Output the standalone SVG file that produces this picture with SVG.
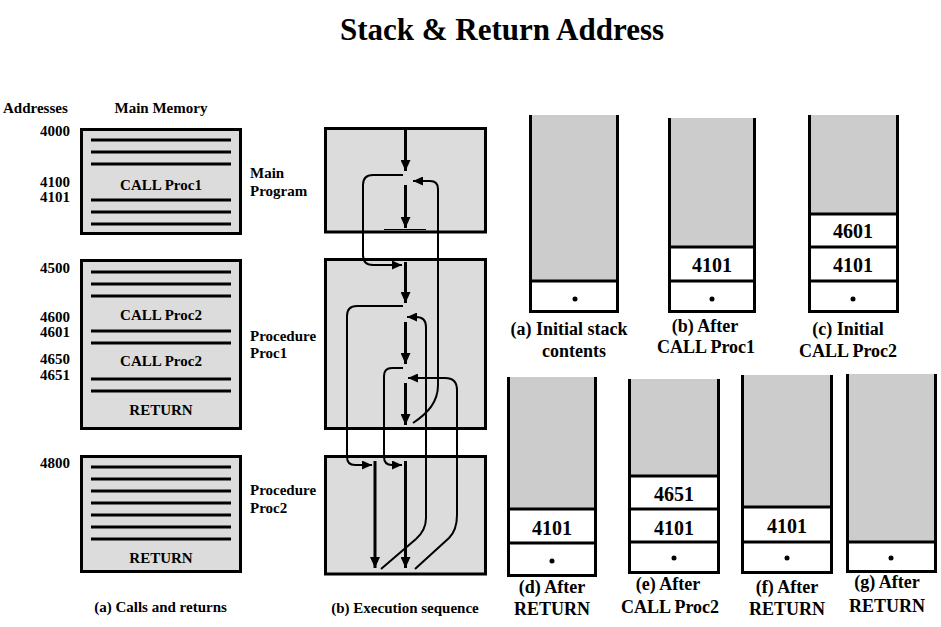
<svg xmlns="http://www.w3.org/2000/svg" width="941" height="627" viewBox="0 0 941 627">
<defs>
<style>
text{font-family:"Liberation Serif","Times New Roman",serif;font-weight:bold;fill:#000}
.t15{font-size:15px}
.lbl{font-size:18px;text-anchor:middle}
.num{font-size:20px;text-anchor:middle}
.mid{text-anchor:middle}
.end{text-anchor:end}
.mem{fill:#dcdcdc;stroke:#000;stroke-width:3}
.ml{stroke:#000;stroke-width:3}
.wall{fill:none;stroke:#000;stroke-width:3}
.gray{fill:#cccccc}
.white{fill:#fff}
.sep{stroke:#000;stroke-width:3}
.shaft{fill:none;stroke:#000;stroke-width:3}
.flow{fill:none;stroke:#000;stroke-width:2}
</style>
<marker id="big" viewBox="0 0 11 10" markerWidth="11" markerHeight="10" refX="11" refY="5" orient="auto" markerUnits="userSpaceOnUse"><path d="M0,0 L11,5 L0,10 z" fill="#000"/></marker>
<marker id="small" viewBox="0 0 10 9" markerWidth="10" markerHeight="9" refX="10" refY="4.5" orient="auto" markerUnits="userSpaceOnUse"><path d="M0,0 L10,4.5 L0,9 z" fill="#000"/></marker>
</defs>
<rect width="941" height="627" fill="#fff"/>
<text x="502" y="40" class="mid" style="font-size:31px">Stack &amp; Return Address</text>

<g id="headers">
<text x="3" y="113" class="t15">Addresses</text>
<text x="161" y="113" class="t15 mid">Main Memory</text>
</g>

<g id="main-memory">
<rect class="mem" x="81.5" y="129.5" width="159" height="104"/>
<path class="ml" d="M91,140H231M91,152H231M91,164H231M91,200H231M91,212H231M91,224H231"/>
<text x="161" y="190" class="t15 mid">CALL Proc1</text>
<text x="70" y="136" class="t15 end">4000</text>
<text x="70" y="187" class="t15 end">4100</text>
<text x="70" y="202" class="t15 end">4101</text>
<text x="250" y="178" class="t15">Main</text>
<text x="250" y="196" class="t15">Program</text>
</g>

<g id="proc1-memory">
<rect class="mem" x="81.5" y="260.5" width="159" height="168"/>
<path class="ml" d="M91,272H231M91,284H231M91,296H231M91,331H231M91,343H231M91,379H231M91,391H231"/>
<text x="161" y="320" class="t15 mid">CALL Proc2</text>
<text x="161" y="366" class="t15 mid">CALL Proc2</text>
<text x="161" y="415" class="t15 mid">RETURN</text>
<text x="70" y="273" class="t15 end">4500</text>
<text x="70" y="322" class="t15 end">4600</text>
<text x="70" y="337" class="t15 end">4601</text>
<text x="70" y="364" class="t15 end">4650</text>
<text x="70" y="380" class="t15 end">4651</text>
<text x="250" y="341" class="t15">Procedure</text>
<text x="250" y="358" class="t15">Proc1</text>
</g>

<g id="proc2-memory">
<rect class="mem" x="81.5" y="456.5" width="159" height="115"/>
<path class="ml" d="M91,467H231M91,479H231M91,491H231M91,503H231M91,515H231M91,527H231M91,539H231"/>
<text x="161" y="563" class="t15 mid">RETURN</text>
<text x="70" y="468" class="t15 end">4800</text>
<text x="250" y="495" class="t15">Procedure</text>
<text x="250" y="513" class="t15">Proc2</text>
</g>
<text x="160.5" y="612" class="t15 mid">(a) Calls and returns</text>

<g id="exec-main"><rect class="mem" x="325.5" y="128.5" width="160" height="103.5"/></g>
<g id="exec-proc1"><rect class="mem" x="325.5" y="259.5" width="160" height="169"/></g>
<g id="exec-proc2"><rect class="mem" x="325.5" y="456.5" width="160" height="117.5"/></g>
<text x="405" y="613" class="t15 mid">(b) Execution sequence</text>

<g id="connectors">
<path class="shaft" d="M405.5,130V171" marker-end="url(#big)"/>
<path class="shaft" d="M405.5,185V228" marker-end="url(#big)"/>
<path d="M384,229.5H426" stroke="#000" stroke-width="1"/>
<path class="shaft" d="M405.5,262V303" marker-end="url(#big)"/>
<path class="shaft" d="M405.5,322V364" marker-end="url(#big)"/>
<path class="shaft" d="M405.5,383V425" marker-end="url(#big)"/>
<path class="shaft" d="M375,461V568" marker-end="url(#big)"/>
<path class="shaft" d="M405.5,461V568" marker-end="url(#big)"/>
<path class="flow" d="M403,175H373Q363,175 363,185V255Q363,265 373,265H402" marker-end="url(#small)"/>
<path class="flow" d="M403,306H357Q347,306 347,316V457Q347,465 355,465H372" marker-end="url(#small)"/>
<path class="flow" d="M403,368H392Q384,368 384,376V457Q384,465 392,465H402" marker-end="url(#small)"/>
<path class="flow" d="M413,423C428,413 438,402 438,385V189Q438,181 430,181H413" marker-end="url(#small)"/>
<path class="flow" d="M381,569L416,539Q426,530 426,518V327Q426,317 416,317H407" marker-end="url(#small)"/>
<path class="flow" d="M415,569L449,538Q457,530 457,515V390Q457,378 445,378H408" marker-end="url(#small)"/>
</g>

<g id="stack-a">
<rect class="gray" x="530.5" y="115" width="87" height="166"/>
<rect class="white" x="530.5" y="281" width="87" height="30.5"/>
<path class="sep" d="M530.5,281H617.5"/>
<path class="wall" d="M530.5,115V311.5H617.5V115"/>
<circle cx="575" cy="299" r="2.5"/>
<text x="569" y="335" class="lbl">(a) Initial stack</text>
<text x="574" y="357" class="lbl">contents</text>
</g>

<g id="stack-b">
<rect class="gray" x="669.5" y="118" width="85" height="129"/>
<rect class="white" x="669.5" y="247" width="85" height="64.5"/>
<path class="sep" d="M669.5,247H754.5M669.5,281H754.5"/>
<path class="wall" d="M669.5,118V311.5H754.5V118"/>
<text x="712" y="272" class="num">4101</text>
<circle cx="712" cy="299" r="2.5"/>
<text x="705" y="332" class="lbl">(b) After</text>
<text x="706" y="353" class="lbl">CALL Proc1</text>
</g>

<g id="stack-c">
<rect class="gray" x="809.5" y="115" width="88" height="99"/>
<rect class="white" x="809.5" y="214" width="88" height="97.5"/>
<path class="sep" d="M809.5,214H897.5M809.5,247H897.5M809.5,281H897.5"/>
<path class="wall" d="M809.5,115V311.5H897.5V115"/>
<text x="853" y="238" class="num">4601</text>
<text x="853" y="272" class="num">4101</text>
<circle cx="853" cy="299" r="2.5"/>
<text x="848" y="335" class="lbl">(c) Initial</text>
<text x="848" y="357" class="lbl">CALL Proc2</text>
</g>

<g id="stack-d">
<rect class="gray" x="508.5" y="377" width="87" height="132"/>
<rect class="white" x="508.5" y="509" width="87" height="66.5"/>
<path class="sep" d="M508.5,509H595.5M508.5,543H595.5"/>
<path class="wall" d="M508.5,377V575.5H595.5V377"/>
<text x="552" y="535" class="num">4101</text>
<circle cx="552" cy="561" r="2.5"/>
<text x="552" y="593" class="lbl">(d) After</text>
<text x="552" y="615" class="lbl">RETURN</text>
</g>

<g id="stack-e">
<rect class="gray" x="629.5" y="379" width="89" height="97"/>
<rect class="white" x="629.5" y="476" width="89" height="96.5"/>
<path class="sep" d="M629.5,476H718.5M629.5,509H718.5M629.5,542H718.5"/>
<path class="wall" d="M629.5,379V572.5H718.5V379"/>
<text x="674" y="501" class="num">4651</text>
<text x="674" y="535" class="num">4101</text>
<circle cx="674" cy="558" r="2.5"/>
<text x="668" y="590" class="lbl">(e) After</text>
<text x="670" y="613" class="lbl">CALL Proc2</text>
</g>

<g id="stack-f">
<rect class="gray" x="742.5" y="375" width="89" height="132"/>
<rect class="white" x="742.5" y="507" width="89" height="65.5"/>
<path class="sep" d="M742.5,507H831.5M742.5,542H831.5"/>
<path class="wall" d="M742.5,375V572.5H831.5V375"/>
<text x="787" y="533" class="num">4101</text>
<circle cx="787" cy="558" r="2.5"/>
<text x="787" y="593" class="lbl">(f) After</text>
<text x="787" y="615" class="lbl">RETURN</text>
</g>

<g id="stack-g">
<rect class="gray" x="847.5" y="374" width="88" height="168"/>
<rect class="white" x="847.5" y="542" width="88" height="29.5"/>
<path class="sep" d="M847.5,542H935.5"/>
<path class="wall" d="M847.5,374V571.5H935.5V374"/>
<circle cx="891" cy="558" r="2.5"/>
<text x="887" y="588" class="lbl">(g) After</text>
<text x="887" y="612" class="lbl">RETURN</text>
</g>
</svg>
